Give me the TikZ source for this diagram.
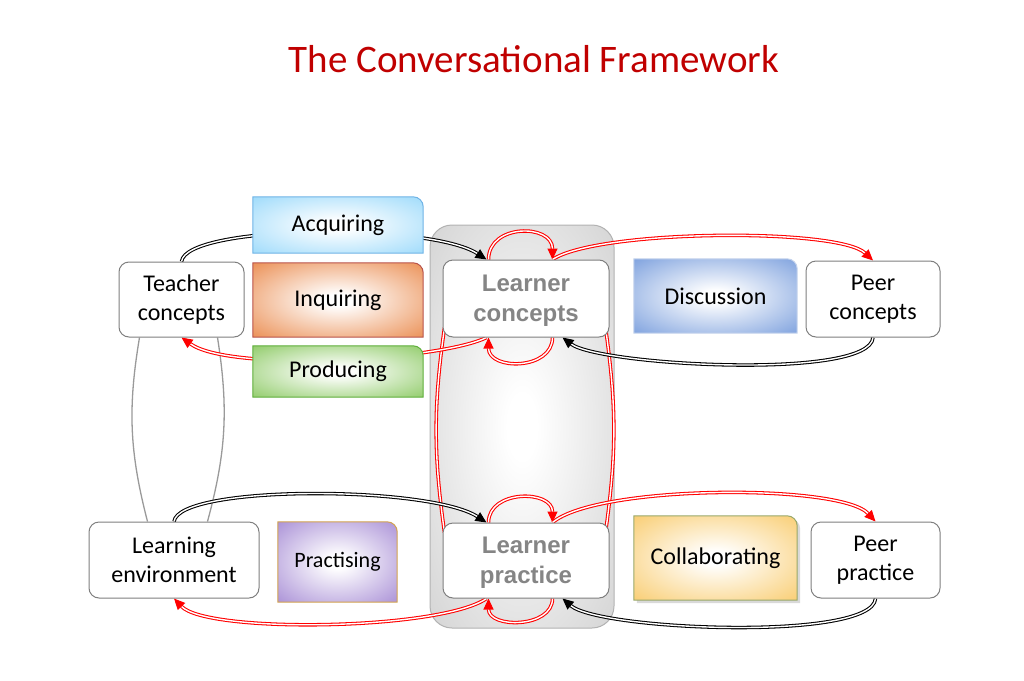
\documentclass[tikz,border=0pt]{standalone}
\usepackage{fontspec}
\setmainfont{Carlito}
\newfontfamily\boldsans{Liberation Sans}
\usetikzlibrary{arrows.meta,shadows}

\definecolor{titlered}{HTML}{C00000}
\definecolor{boxgray}{HTML}{7F7F7F}
\definecolor{learnergray}{HTML}{858585}
\definecolor{tiegray}{HTML}{9A9A9A}
\definecolor{acqblue}{HTML}{8CD4FA}
\definecolor{acqedge}{HTML}{6FB3E6}
\definecolor{inqorange}{HTML}{E77A34}
\definecolor{inqedge}{HTML}{B8524A}
\definecolor{prodgreen}{HTML}{7CC24E}
\definecolor{prodedge}{HTML}{5EAE3A}
\definecolor{discblue}{HTML}{6690D8}
\definecolor{discedge}{HTML}{C3D2EC}
\definecolor{practpurple}{HTML}{9A7CCF}
\definecolor{practedge}{HTML}{D2A24E}
\definecolor{collyellow}{HTML}{F8C458}
\definecolor{colledge}{HTML}{98A86A}

\pgfdeclarelayer{back}
\pgfdeclarelayer{wires}
\pgfdeclarelayer{tabs}
\pgfsetlayers{back,wires,tabs,main}

\colorlet{tabout}{white}
\pgfdeclareradialshading[tabout]{glow}{\pgfpointorigin}{color(0bp)=(white);color(4bp)=(white);color(42bp)=(tabout);color(50bp)=(tabout)}

% shaded tab behind a text node, top right corner rounded
\newcommand{\tabshape}[4][]{%
  \colorlet{tabout}{#3}%
  \begin{pgfonlayer}{tabs}
  \path[shade,shading=glow,draw=#4,line width=1pt,#1] (#2.south west) -- (#2.north west)
    -- ([xshift=-10pt]#2.north east) to[out=0,in=90] ([yshift=-10pt]#2.north east)
    -- (#2.south east) -- cycle;
  \end{pgfonlayer}}

\begin{document}
\begin{tikzpicture}[x=1pt,y=-1pt,
  box/.style={draw=boxgray,line width=1pt,rounded corners=10pt,fill=white,align=center,inner sep=0pt,font=\fontsize{24}{29}\selectfont},
  learner/.style={box,font=\boldsans\bfseries\fontsize{24}{30}\selectfont,text=learnergray,text depth=0pt},
  tab/.style={align=center,inner sep=0pt,font=\fontsize{24}{29}\selectfont},
  dbl/.style={double=white,double distance=1.4pt,line width=1.05pt},
  blk/.style={dbl,draw=black,-{Triangle[length=11pt,width=10pt]}},
  rd/.style={dbl,draw=red,-{Triangle[length=11pt,width=10pt]}},
  tie/.style={draw=tiegray,line width=1.3pt}]
\useasboundingbox (0,0) rectangle (1024,680);

\node[font=\fontsize{39}{39}\selectfont,text=titlered] at(534,59)(title){The Conversational Framework};

% boxes
\node[box,minimum width=125pt,minimum height=75pt] at(181.5,299.5)(tc){Teacher\\concepts};
\node[learner,minimum width=166pt,minimum height=77pt] at(526,298.5)(lc){Learner\\concepts};
\node[box,minimum width=134pt,minimum height=76pt] at(873,299)(pc){Peer\\concepts};
\node[box,minimum width=170pt,minimum height=76pt] at(174,560)(le){Learning\\environment};
\node[learner,minimum width=166pt,minimum height=75pt] at(526,560.5)(lp){Learner\\practice};
\node[box,minimum width=129pt,minimum height=76pt] at(875.5,560)(pp){Peer\\practice};

% tabs
\node[tab,minimum width=170pt,minimum height=56pt] at(338,225)(acq){Acquiring};
\node[tab,minimum width=170pt,minimum height=74pt] at(338,300)(inq){Inquiring};
\node[tab,minimum width=170pt,minimum height=51pt] at(338,371.5)(prod){Producing};
\node[tab,minimum width=163pt,minimum height=74pt] at(715.5,296)(disc){Discussion};
\node[tab,minimum width=119pt,minimum height=80pt,font=\fontsize{22}{26}\selectfont] at(337.5,562)(pract){Practising};
\node[tab,minimum width=163pt,minimum height=84pt] at(715.5,558)(coll){Collaborating};

\tabshape{acq}{acqblue}{acqedge}
\tabshape{inq}{inqorange}{inqedge}
\tabshape{prod}{prodgreen}{prodedge}
\tabshape{disc}{discblue}{discedge}
\tabshape{pract}{practpurple}{practedge}
\tabshape[drop shadow={shadow xshift=3pt,shadow yshift=-3pt,opacity=0.3}]{coll}{collyellow}{colledge}

% learner frame
\colorlet{tabout}{gray!40}
\begin{pgfonlayer}{back}
\path[shade,shading=glow,draw=gray!60,line width=1pt,rounded corners=22pt] (430,225) rectangle (614,628);
\end{pgfonlayer}

\begin{pgfonlayer}{wires}
% teacher and environment
\draw[tie] ([xshift=21pt]tc.south west) to[bend right=12] ([xshift=59pt]le.north west);
\draw[tie] ([xshift=-27pt]tc.south east) to[bend left=12] ([xshift=-52pt]le.north east);
% concepts and practice
\draw[rd,-] ([xshift=2pt,yshift=10pt]lc.south west) to[bend right=8] ([xshift=2pt,yshift=-10pt]lp.north west);
\draw[rd,-] ([xshift=-4pt,yshift=10pt]lc.south east) to[bend left=8] ([xshift=-4pt,yshift=-10pt]lp.north east);
% concepts row
\draw[blk] (tc.north) .. controls +(5,-37) and +(-57,-37) .. ([xshift=44pt]lc.north west);
\draw[rd] ([xshift=46pt]lc.north west) .. controls +(0,-36) and +(0,-36) .. ([xshift=110pt]lc.north west);
\draw[rd] ([xshift=110pt]lc.north west) .. controls +(45,-30) and +(-35,-33) .. (pc.north);
\draw[blk] (pc.south) .. controls +(-3,43) and +(37,28) .. ([xshift=120pt]lc.south west);
\draw[rd] ([xshift=110pt]lc.south west) .. controls +(0,33) and +(0,33) .. ([xshift=46pt]lc.south west);
\draw[rd] ([xshift=44pt]lc.south west) .. controls +(-47,23) and +(49,35) .. (tc.south);
% practice row
\draw[blk] (le.north) .. controls +(5,-37) and +(-57,-37) .. ([xshift=44pt]lp.north west);
\draw[rd] ([xshift=46pt]lp.north west) .. controls +(0,-33) and +(0,-33) .. ([xshift=110pt]lp.north west);
\draw[rd] ([xshift=110pt]lp.north west) .. controls +(45,-38) and +(-35,-38) .. (pp.north);
\draw[blk] (pp.south) .. controls +(-3,43) and +(37,32) .. ([xshift=120pt]lp.south west);
\draw[rd] ([xshift=110pt]lp.south west) .. controls +(0,30) and +(0,30) .. ([xshift=46pt]lp.south west);
\draw[rd] ([xshift=44pt]lp.south west) .. controls +(-47,32) and +(33,35) .. (le.south);
\end{pgfonlayer}
\end{tikzpicture}
\end{document}
